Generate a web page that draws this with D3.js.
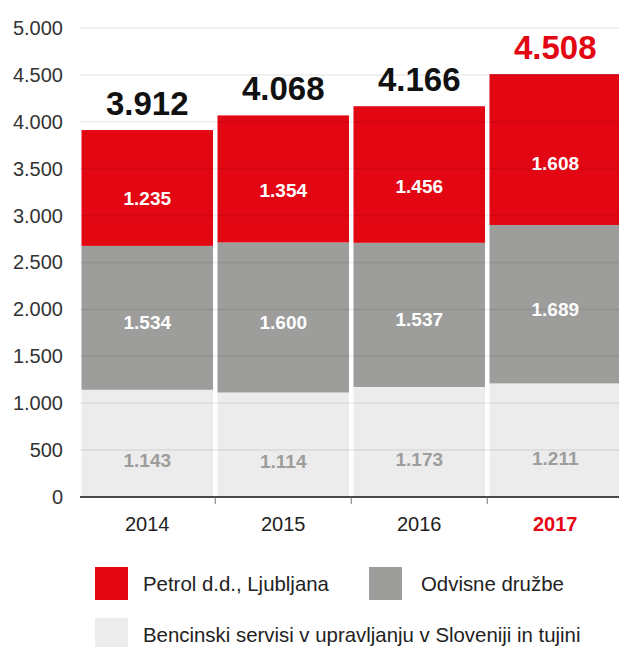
<!DOCTYPE html>
<html>
<head>
<meta charset="utf-8">
<script src="https://cdn.jsdelivr.net/npm/d3@7"></script>
<style>
  body { margin: 0; background: #fff; }
  svg { display: block; font-family: "Liberation Sans", Arial, Helvetica, sans-serif; }
</style>
</head>
<body>
<div id="chart"></div>
<script>
// data
var years = ["2014", "2015", "2016", "2017"];
var bencinski = [1143, 1114, 1173, 1211];
var odvisne = [1534, 1600, 1537, 1689];
var petrol = [1235, 1354, 1456, 1608];
var yTicks = [0, 500, 1000, 1500, 2000, 2500, 3000, 3500, 4000, 4500, 5000];
var seriesNames = ["Petrol d.d., Ljubljana", "Odvisne družbe", "Bencinski servisi v upravljanju v Sloveniji in tujini"];

var width = 619, height = 647;
var red = "#e30613", midGray = "#9d9d9c", lightGray = "#ececec";

var locale = d3.formatLocale({decimal: ",", thousands: ".", grouping: [3], currency: ["", "€"]});
var fmt = locale.format(",d");

var svg = d3.select("#chart").append("svg")
    .attr("width", width)
    .attr("height", height);

var x = d3.scaleBand()
    .domain(years)
    .range([81.5, 621])
    .paddingInner(0.033)
    .paddingOuter(0);

var y = d3.scaleLinear()
    .domain([0, 5000])
    .range([497, 28]);

// stack layers: bottom first
var rows = years.map(function (yr, i) {
    return {year: yr, bencinski: bencinski[i], odvisne: odvisne[i], petrol: petrol[i]};
});
var keys = ["bencinski", "odvisne", "petrol"];
var colors = {bencinski: lightGray, odvisne: midGray, petrol: red};
var labelColors = {bencinski: "#9d9d9c", odvisne: "#fff", petrol: "#fff"};
var labelPos = {bencinski: 0.34, odvisne: 0.47, petrol: 0.41};
var stacked = d3.stack().keys(keys)(rows);

var layer = svg.append("g").selectAll("g")
    .data(stacked)
    .join("g")
    .attr("fill", function (d) { return colors[d.key]; });

layer.selectAll("rect")
    .data(function (d) { return d; })
    .join("rect")
    .attr("x", function (d) { return x(d.data.year); })
    .attr("width", x.bandwidth())
    .attr("y", function (d) { return y(d[1]); })
    .attr("height", function (d) { return y(d[0]) - y(d[1]); });

// gridlines over the bars
svg.append("g")
    .selectAll("line")
    .data(yTicks.slice(1))
    .join("line")
    .attr("x1", 80).attr("x2", width)
    .attr("y1", function (d) { return y(d); })
    .attr("y2", function (d) { return y(d); })
    .attr("stroke", "rgba(0,0,0,0.06)")
    .attr("stroke-width", 2);

// y axis labels
var yAxis = svg.append("g")
    .attr("transform", "translate(70,0)")
    .call(d3.axisLeft(y).tickValues(yTicks).tickFormat(fmt).tickSize(0).tickPadding(7));
yAxis.select(".domain").remove();
yAxis.selectAll("text")
    .attr("font-size", 20)
    .attr("font-family", "Liberation Sans, Arial, sans-serif")
    .attr("fill", "#333");

// x axis: baseline + ticks between bands
svg.append("line")
    .attr("x1", 80).attr("x2", width)
    .attr("y1", y(0)).attr("y2", y(0))
    .attr("stroke", "#111")
    .attr("stroke-width", 1.5);

svg.append("g")
    .selectAll("line")
    .data(years.slice(1))
    .join("line")
    .attr("x1", function (d) { return x(d) - x.step() * x.paddingInner() / 2; })
    .attr("x2", function (d) { return x(d) - x.step() * x.paddingInner() / 2; })
    .attr("y1", y(0)).attr("y2", y(0) + 7)
    .attr("stroke", "#777")
    .attr("stroke-width", 1);

svg.append("g")
    .selectAll("text")
    .data(years)
    .join("text")
    .attr("x", function (d) { return x(d) + x.bandwidth() / 2; })
    .attr("y", 531)
    .attr("text-anchor", "middle")
    .attr("font-size", 20)
    .attr("font-weight", function (d, i) { return i === years.length - 1 ? "bold" : "normal"; })
    .attr("fill", function (d, i) { return i === years.length - 1 ? red : "#222"; })
    .text(function (d) { return d; });

// segment labels
layer.each(function (s) {
    d3.select(this).selectAll("text")
        .data(s)
        .join("text")
        .attr("x", function (d) { return x(d.data.year) + x.bandwidth() / 2; })
        .attr("y", function (d) { return y(d[0] + (d[1] - d[0]) * labelPos[s.key]); })
        .attr("dy", "0.35em")
        .attr("text-anchor", "middle")
        .attr("font-size", 19)
        .attr("font-weight", "bold")
        .attr("fill", labelColors[s.key])
        .text(function (d) { return fmt(d[1] - d[0]); });
});

// totals
svg.append("g")
    .selectAll("text")
    .data(rows)
    .join("text")
    .attr("x", function (d) { return x(d.year) + x.bandwidth() / 2; })
    .attr("y", function (d) { return y(d.bencinski + d.odvisne + d.petrol) - 15; })
    .attr("text-anchor", "middle")
    .attr("font-size", 33)
    .attr("font-weight", "bold")
    .attr("fill", function (d, i) { return i === rows.length - 1 ? red : "#111"; })
    .text(function (d) { return fmt(d.bencinski + d.odvisne + d.petrol); });

// legend
var legendItems = [
    {name: seriesNames[0], color: red, x: 95, y: 567},
    {name: seriesNames[1], color: midGray, x: 369, y: 567},
    {name: seriesNames[2], color: lightGray, x: 95, y: 618}
];
var lg = svg.append("g").selectAll("g")
    .data(legendItems)
    .join("g")
    .attr("transform", function (d) { return "translate(" + d.x + "," + d.y + ")"; });
lg.append("rect")
    .attr("width", 33).attr("height", 33)
    .attr("fill", function (d) { return d.color; });
lg.append("text")
    .attr("x", function (d, i) { return i === 1 ? 52 : 48; })
    .attr("y", 17)
    .attr("dy", "0.35em")
    .attr("font-size", 20.4)
    .attr("fill", "#222")
    .text(function (d) { return d.name; });
</script>
</body>
</html>
